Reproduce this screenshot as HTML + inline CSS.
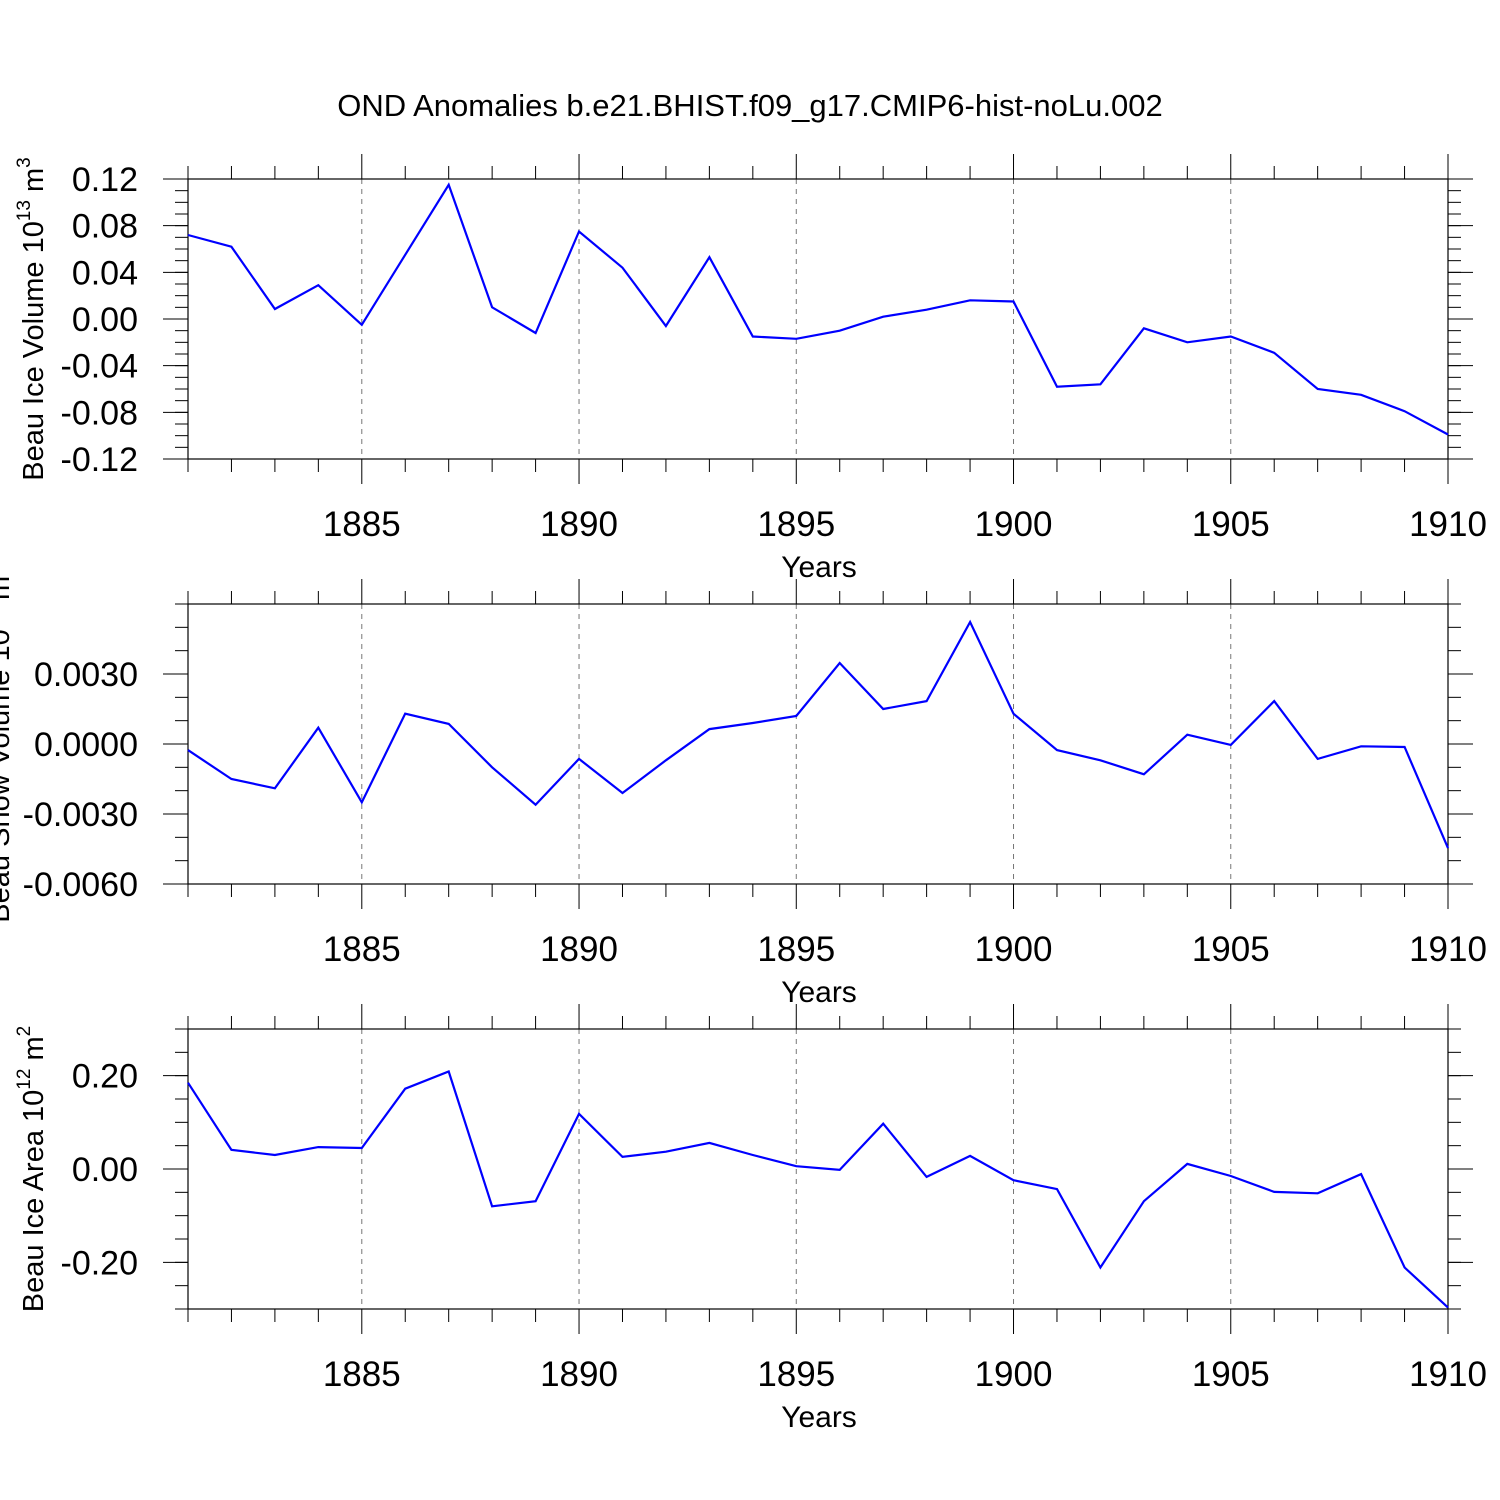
<!DOCTYPE html>
<html><head><meta charset="utf-8"><style>
html,body{margin:0;padding:0;background:#fff;}
svg{display:block;font-family:"Liberation Sans",sans-serif;}
</style></head><body>
<svg id="chart" width="1500" height="1500" viewBox="0 0 1500 1500">
<text x="750" y="116" font-size="31" text-anchor="middle">OND Anomalies b.e21.BHIST.f09_g17.CMIP6-hist-noLu.002</text>
</svg>
<script>
const years = [1881,1882,1883,1884,1885,1886,1887,1888,1889,1890,1891,1892,1893,1894,1895,1896,1897,1898,1899,1900,1901,1902,1903,1904,1905,1906,1907,1908,1909,1910];
const iceVolume = [0.072,0.062,0.0086,0.029,-0.005,0.055,0.115,0.010,-0.012,0.075,0.044,-0.006,0.053,-0.015,-0.017,-0.010,0.002,0.008,0.016,0.015,-0.058,-0.056,-0.008,-0.020,-0.015,-0.029,-0.060,-0.065,-0.079,-0.099];
const snowVolume = [-0.00026,-0.0015,-0.0019,0.0007,-0.0025,0.0013,0.00086,-0.001,-0.0026,-0.00064,-0.0021,-0.0007,0.00064,0.0009,0.0012,0.00347,0.0015,0.00184,0.00523,0.0013,-0.00026,-0.0007,-0.0013,0.0004,-0.00004,0.00184,-0.00064,-0.0001,-0.00013,-0.00446];
const iceArea = [0.185,0.041,0.030,0.047,0.045,0.172,0.209,-0.080,-0.069,0.118,0.026,0.037,0.056,0.030,0.006,-0.002,0.097,-0.017,0.028,-0.024,-0.043,-0.211,-0.069,0.011,-0.015,-0.049,-0.052,-0.011,-0.211,-0.297];
const xMajorTicks = [1885,1890,1895,1900,1905,1910];
const volTicks = [0.12,0.08,0.04,0.00,-0.04,-0.08,-0.12];
const volTickLabels = ["0.12","0.08","0.04","0.00","-0.04","-0.08","-0.12"];
const snowTicks = [0.003,0,-0.003,-0.006];
const snowTickLabels = ["0.0030","0.0000","-0.0030","-0.0060"];
const areaTicks = [0.2,0,-0.2];
const areaTickLabels = ["0.20","0.00","-0.20"];

const NS = "http://www.w3.org/2000/svg";
const svg = document.getElementById('chart');
function mk(tag, attrs, parent){const e=document.createElementNS(NS,tag);for(const k in attrs)e.setAttribute(k,attrs[k]);(parent||svg).appendChild(e);return e;}

const X0=188,X1=1448;
const xScale = y => X0 + (y-1881)/(1910-1881)*(X1-X0);

function panel(cfg){
  const g = mk('g',{});
  
  
  const top=cfg.top, bot=cfg.top+280;
  const yS = v => top + (cfg.ymax - v)/(cfg.ymax-cfg.ymin)*280;
  xMajorTicks.forEach(t=>{ if(t<1910){
    const l=mk('line',{x1:xScale(t),x2:xScale(t),y1:top,y2:bot,stroke:'#777','stroke-width':1,'stroke-dasharray':'5,5'},g);
    
    
  }});
  years.forEach(t=>{
    const major = xMajorTicks.indexOf(t)>=0;
    const len = major?25:13;
    const x=xScale(t);
    mk('line',{x1:x,x2:x,y1:top-len,y2:top,stroke:'#000','stroke-width':1},g);
    mk('line',{x1:x,x2:x,y1:bot,y2:bot+len,stroke:'#000','stroke-width':1},g);
  });
  xMajorTicks.forEach(t=>{
    const tx=mk('text',{x:xScale(t),y:bot+77,'font-size':35,'text-anchor':'middle'},g);
    tx.textContent=t;
    
    
  });
  for(let v=cfg.ymin; v<=cfg.ymax+1e-12; v+=cfg.minor){
    const y=yS(v);
    mk('line',{x1:X0-13,x2:X0,y1:y,y2:y,stroke:'#000','stroke-width':1},g);
    mk('line',{x1:X1,x2:X1+13,y1:y,y2:y,stroke:'#000','stroke-width':1},g);
  }
  cfg.ticks.forEach((v,i)=>{
    const y=yS(v);
    mk('line',{x1:X0-25,x2:X0,y1:y,y2:y,stroke:'#000','stroke-width':1},g);
    mk('line',{x1:X1,x2:X1+25,y1:y,y2:y,stroke:'#000','stroke-width':1},g);
    const tx=mk('text',{x:138,y:y+12,'font-size':34,'text-anchor':'end'},g);
    tx.textContent=cfg.labels[i];
    
    
  });
  const box=mk('rect',{x:X0,y:top,width:X1-X0,height:280,fill:'none',stroke:'#000','stroke-width':1.2},g);
  
  
  const pts = cfg.data.map((v,i)=>xScale(years[i]).toFixed(1)+','+yS(v).toFixed(1)).join(' ');
  const pl=mk('polyline',{points:pts,fill:'none',stroke:'#0000ff','stroke-width':2.2,'stroke-linejoin':'miter'},g);
  
  
  const xt=mk('text',{x:819,y:bot+118,'font-size':30,'text-anchor':'middle'},g);
  xt.textContent='Years';
  
  
  const yt=mk('text',{x:0,y:0,'font-size':29,'text-anchor':'middle',transform:'translate('+cfg.titleX+','+(top+140)+') rotate(-90)'},g);
  yt.innerHTML=cfg.title;
  
  
}
panel({name:'ice-volume-panel',top:179,ymin:-0.12,ymax:0.12,minor:0.01,ticks:volTicks,labels:volTickLabels,data:iceVolume,titleX:43,
  title:'Beau Ice Volume 10<tspan font-size="19" dy="-13">13</tspan><tspan dy="13"> m</tspan><tspan font-size="19" dy="-13">3</tspan>'});
panel({name:'snow-volume-panel',top:604,ymin:-0.006,ymax:0.006,minor:0.001,ticks:snowTicks,labels:snowTickLabels,data:snowVolume,titleX:9,
  title:'Beau Snow Volume 10<tspan font-size="19" dy="-13">13</tspan><tspan dy="13"> m</tspan><tspan font-size="19" dy="-13">3</tspan>'});
panel({name:'ice-area-panel',top:1029,ymin:-0.3,ymax:0.3,minor:0.05,ticks:areaTicks,labels:areaTickLabels,data:iceArea,titleX:43,
  title:'Beau Ice Area 10<tspan font-size="19" dy="-13">12</tspan><tspan dy="13"> m</tspan><tspan font-size="19" dy="-13">2</tspan>'});
</script>
</body></html>
